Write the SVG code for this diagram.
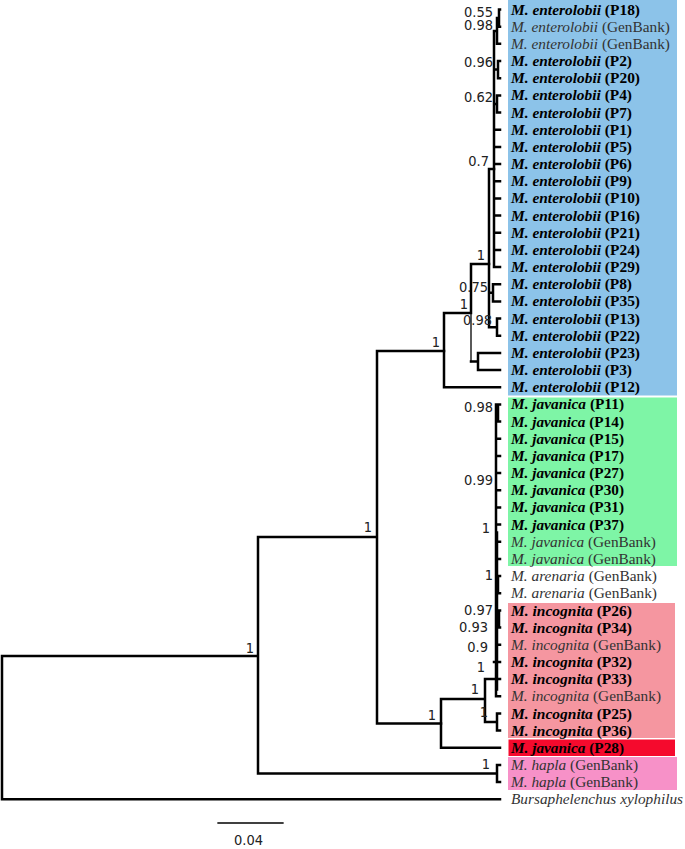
<svg xmlns="http://www.w3.org/2000/svg" width="685" height="849" viewBox="0 0 685 849">
<style>
.t{font-family:"Liberation Serif","Times New Roman",serif;font-size:15px}
.b{font-weight:bold;fill:#000}
.n{fill:#333}
.i{font-style:italic}
.s{font-family:"Liberation Sans Narrow","DejaVu Sans Condensed",sans-serif;font-stretch:condensed;font-size:14.5px;fill:#222;text-anchor:end}
.br{fill:none;stroke:#000;stroke-width:2.5;stroke-linecap:square}
</style>
<rect width="685" height="849" fill="#fff"/>
<g id="clade-boxes">
<rect x="508" y="0" width="169" height="395.5" fill="#8CC3E9"/>
<rect x="508" y="397.5" width="169" height="168.5" fill="#7EF5A6"/>
<rect x="508" y="603" width="167" height="135" fill="#F596A0"/>
<rect x="508.5" y="739.5" width="166.5" height="16.5" fill="#F50A2D"/>
<rect x="508" y="757" width="169" height="33" fill="#F791C8"/>
</g>
<g id="connectors" class="br">
<path d="M2 656V799.3H500M2 656H258M258 537V773.5H497M497 765V782.1M497 765H500M497 782.1H500M258 537H377M377 351V723.4H441M377 351H444"/>
<path d="M444 313V387.2H500M444 313H471V264H489M471 361.5H478M478 352.9V370.1M478 352.9H500M478 370.1H500"/>
<path d="M471 313V361.5" stroke-width="1.3"/>
<path d="M489 169V327.2H497M497 318.6V335.7M497 318.6H500M497 335.7H500M489 292.8H493M493 284.2V301.4M493 284.2H500M493 301.4H500M489 169H494"/>
<path d="M494 31V267.1H500M494 31H497M497 18.1V43.8H500M497 18.1H499M499 9.5V26.7M499 9.5H500M499 26.7H500M494 69.6H498M498 61V78.2M498 61H500M498 78.2H500M494 104H497M497 95.4V112.5M497 95.4H500M497 112.5H500M494 129.7H500M494 146.9H500M494 164H500M494 181.2H500M494 198.4H500M494 215.5H500M494 232.7H500M494 249.9H500"/>
<path d="M496 404.4V696.3H500M496 413H498M498 404.4V421.6M498 404.4H500M498 421.6H500M496 438.8H500M496 455.9H500M496 473.1H500M496 490.3H500M496 507.4H500M496 524.6H500M496 541.8H500M496 558.9H500M496 584.7H498M498 576.1V593.3M498 576.1H500M498 593.3H500M496 619H499M499 610.5V627.6M499 610.5H500M499 627.6H500M496 644.8H500M494 662H500M496 679.1H500"/>
<path d="M497.5 532V690" stroke-width="1.5"/>
<path d="M441 699V747.8H500M441 699H485M485 679V721.9H497M485 679H496M497 713.5V730.6M497 713.5H500M497 730.6H500"/>
<path d="M218 823H283" stroke-width="1.3"/>
</g>
<g id="support-labels" class="s">
<text x="493" y="16.5">0.55</text>
<text x="493" y="30">0.98</text>
<text x="493" y="67">0.96</text>
<text x="493" y="102">0.62</text>
<text x="489" y="166">0.7</text>
<text x="485" y="260">1</text>
<text x="488" y="292">0.75</text>
<text x="468" y="309">1</text>
<text x="492" y="325">0.98</text>
<text x="440" y="347">1</text>
<text x="372" y="532">1</text>
<text x="254" y="653">1</text>
<text x="493" y="412">0.98</text>
<text x="493" y="485">0.99</text>
<text x="490" y="533">1</text>
<text x="493" y="580">1</text>
<text x="493" y="615">0.97</text>
<text x="488" y="632">0.93</text>
<text x="488" y="652">0.9</text>
<text x="485" y="672">1</text>
<text x="479" y="694">1</text>
<text x="488" y="717">1</text>
<text x="436" y="720">1</text>
<text x="490" y="769">1</text>
<text x="263" y="845">0.04</text>
</g>
<g id="leaf-P18"><text class="t b" x="511" y="14.5" textLength="129" lengthAdjust="spacingAndGlyphs"><tspan class="i">M. enterolobii</tspan> (P18)</text></g>
<g id="leaf-ent-gb1"><text class="t n" x="511" y="31.7" textLength="159" lengthAdjust="spacingAndGlyphs"><tspan class="i">M. enterolobii</tspan> (GenBank)</text></g>
<g id="leaf-ent-gb2"><text class="t n" x="511" y="48.8" textLength="159" lengthAdjust="spacingAndGlyphs"><tspan class="i">M. enterolobii</tspan> (GenBank)</text></g>
<g id="leaf-P2"><text class="t b" x="511" y="66" textLength="121" lengthAdjust="spacingAndGlyphs"><tspan class="i">M. enterolobii</tspan> (P2)</text></g>
<g id="leaf-P20"><text class="t b" x="511" y="83.2" textLength="129" lengthAdjust="spacingAndGlyphs"><tspan class="i">M. enterolobii</tspan> (P20)</text></g>
<g id="leaf-P4"><text class="t b" x="511" y="100.4" textLength="121" lengthAdjust="spacingAndGlyphs"><tspan class="i">M. enterolobii</tspan> (P4)</text></g>
<g id="leaf-P7"><text class="t b" x="511" y="117.5" textLength="121" lengthAdjust="spacingAndGlyphs"><tspan class="i">M. enterolobii</tspan> (P7)</text></g>
<g id="leaf-P1"><text class="t b" x="511" y="134.7" textLength="121" lengthAdjust="spacingAndGlyphs"><tspan class="i">M. enterolobii</tspan> (P1)</text></g>
<g id="leaf-P5"><text class="t b" x="511" y="151.9" textLength="121" lengthAdjust="spacingAndGlyphs"><tspan class="i">M. enterolobii</tspan> (P5)</text></g>
<g id="leaf-P6"><text class="t b" x="511" y="169" textLength="121" lengthAdjust="spacingAndGlyphs"><tspan class="i">M. enterolobii</tspan> (P6)</text></g>
<g id="leaf-P9"><text class="t b" x="511" y="186.2" textLength="121" lengthAdjust="spacingAndGlyphs"><tspan class="i">M. enterolobii</tspan> (P9)</text></g>
<g id="leaf-P10"><text class="t b" x="511" y="203.4" textLength="129" lengthAdjust="spacingAndGlyphs"><tspan class="i">M. enterolobii</tspan> (P10)</text></g>
<g id="leaf-P16"><text class="t b" x="511" y="220.5" textLength="129" lengthAdjust="spacingAndGlyphs"><tspan class="i">M. enterolobii</tspan> (P16)</text></g>
<g id="leaf-P21"><text class="t b" x="511" y="237.7" textLength="129" lengthAdjust="spacingAndGlyphs"><tspan class="i">M. enterolobii</tspan> (P21)</text></g>
<g id="leaf-P24"><text class="t b" x="511" y="254.9" textLength="129" lengthAdjust="spacingAndGlyphs"><tspan class="i">M. enterolobii</tspan> (P24)</text></g>
<g id="leaf-P29"><text class="t b" x="511" y="272.1" textLength="129" lengthAdjust="spacingAndGlyphs"><tspan class="i">M. enterolobii</tspan> (P29)</text></g>
<g id="leaf-P8"><text class="t b" x="511" y="289.2" textLength="121" lengthAdjust="spacingAndGlyphs"><tspan class="i">M. enterolobii</tspan> (P8)</text></g>
<g id="leaf-P35"><text class="t b" x="511" y="306.4" textLength="129" lengthAdjust="spacingAndGlyphs"><tspan class="i">M. enterolobii</tspan> (P35)</text></g>
<g id="leaf-P13"><text class="t b" x="511" y="323.6" textLength="129" lengthAdjust="spacingAndGlyphs"><tspan class="i">M. enterolobii</tspan> (P13)</text></g>
<g id="leaf-P22"><text class="t b" x="511" y="340.7" textLength="129" lengthAdjust="spacingAndGlyphs"><tspan class="i">M. enterolobii</tspan> (P22)</text></g>
<g id="leaf-P23"><text class="t b" x="511" y="357.9" textLength="129" lengthAdjust="spacingAndGlyphs"><tspan class="i">M. enterolobii</tspan> (P23)</text></g>
<g id="leaf-P3"><text class="t b" x="511" y="375.1" textLength="121" lengthAdjust="spacingAndGlyphs"><tspan class="i">M. enterolobii</tspan> (P3)</text></g>
<g id="leaf-P12"><text class="t b" x="511" y="392.2" textLength="129" lengthAdjust="spacingAndGlyphs"><tspan class="i">M. enterolobii</tspan> (P12)</text></g>
<g id="leaf-P11"><text class="t b" x="511" y="409.4" textLength="113" lengthAdjust="spacingAndGlyphs"><tspan class="i">M. javanica</tspan> (P11)</text></g>
<g id="leaf-P14"><text class="t b" x="511" y="426.6" textLength="113" lengthAdjust="spacingAndGlyphs"><tspan class="i">M. javanica</tspan> (P14)</text></g>
<g id="leaf-P15"><text class="t b" x="511" y="443.8" textLength="113" lengthAdjust="spacingAndGlyphs"><tspan class="i">M. javanica</tspan> (P15)</text></g>
<g id="leaf-P17"><text class="t b" x="511" y="460.9" textLength="113" lengthAdjust="spacingAndGlyphs"><tspan class="i">M. javanica</tspan> (P17)</text></g>
<g id="leaf-P27"><text class="t b" x="511" y="478.1" textLength="113" lengthAdjust="spacingAndGlyphs"><tspan class="i">M. javanica</tspan> (P27)</text></g>
<g id="leaf-P30"><text class="t b" x="511" y="495.3" textLength="113" lengthAdjust="spacingAndGlyphs"><tspan class="i">M. javanica</tspan> (P30)</text></g>
<g id="leaf-P31"><text class="t b" x="511" y="512.4" textLength="113" lengthAdjust="spacingAndGlyphs"><tspan class="i">M. javanica</tspan> (P31)</text></g>
<g id="leaf-P37"><text class="t b" x="511" y="529.6" textLength="113" lengthAdjust="spacingAndGlyphs"><tspan class="i">M. javanica</tspan> (P37)</text></g>
<g id="leaf-jav-gb1"><text class="t n" x="511" y="546.8" textLength="145" lengthAdjust="spacingAndGlyphs"><tspan class="i">M. javanica</tspan> (GenBank)</text></g>
<g id="leaf-jav-gb2"><text class="t n" x="511" y="563.9" textLength="145" lengthAdjust="spacingAndGlyphs"><tspan class="i">M. javanica</tspan> (GenBank)</text></g>
<g id="leaf-are-gb1"><text class="t n" x="511" y="581.1" textLength="146" lengthAdjust="spacingAndGlyphs"><tspan class="i">M. arenaria</tspan> (GenBank)</text></g>
<g id="leaf-are-gb2"><text class="t n" x="511" y="598.3" textLength="146" lengthAdjust="spacingAndGlyphs"><tspan class="i">M. arenaria</tspan> (GenBank)</text></g>
<g id="leaf-P26"><text class="t b" x="511" y="615.5" textLength="121" lengthAdjust="spacingAndGlyphs"><tspan class="i">M. incognita</tspan> (P26)</text></g>
<g id="leaf-P34"><text class="t b" x="511" y="632.6" textLength="121" lengthAdjust="spacingAndGlyphs"><tspan class="i">M. incognita</tspan> (P34)</text></g>
<g id="leaf-inc-gb1"><text class="t n" x="511" y="649.8" textLength="150" lengthAdjust="spacingAndGlyphs"><tspan class="i">M. incognita</tspan> (GenBank)</text></g>
<g id="leaf-P32"><text class="t b" x="511" y="667" textLength="121" lengthAdjust="spacingAndGlyphs"><tspan class="i">M. incognita</tspan> (P32)</text></g>
<g id="leaf-P33"><text class="t b" x="511" y="684.1" textLength="121" lengthAdjust="spacingAndGlyphs"><tspan class="i">M. incognita</tspan> (P33)</text></g>
<g id="leaf-inc-gb2"><text class="t n" x="511" y="701.3" textLength="150" lengthAdjust="spacingAndGlyphs"><tspan class="i">M. incognita</tspan> (GenBank)</text></g>
<g id="leaf-P25"><text class="t b" x="511" y="718.5" textLength="121" lengthAdjust="spacingAndGlyphs"><tspan class="i">M. incognita</tspan> (P25)</text></g>
<g id="leaf-P36"><text class="t b" x="511" y="735.6" textLength="121" lengthAdjust="spacingAndGlyphs"><tspan class="i">M. incognita</tspan> (P36)</text></g>
<g id="leaf-P28"><text class="t b" x="511" y="752.8" textLength="113" lengthAdjust="spacingAndGlyphs"><tspan class="i">M. javanica</tspan> (P28)</text></g>
<g id="leaf-hap-gb1"><text class="t n" x="511" y="770" textLength="127" lengthAdjust="spacingAndGlyphs"><tspan class="i">M. hapla</tspan> (GenBank)</text></g>
<g id="leaf-hap-gb2"><text class="t n" x="511" y="787.1" textLength="127" lengthAdjust="spacingAndGlyphs"><tspan class="i">M. hapla</tspan> (GenBank)</text></g>
<g id="leaf-bx"><text class="t n i" x="511" y="804.3" textLength="172" lengthAdjust="spacingAndGlyphs">Bursaphelenchus xylophilus</text></g>
</svg>
